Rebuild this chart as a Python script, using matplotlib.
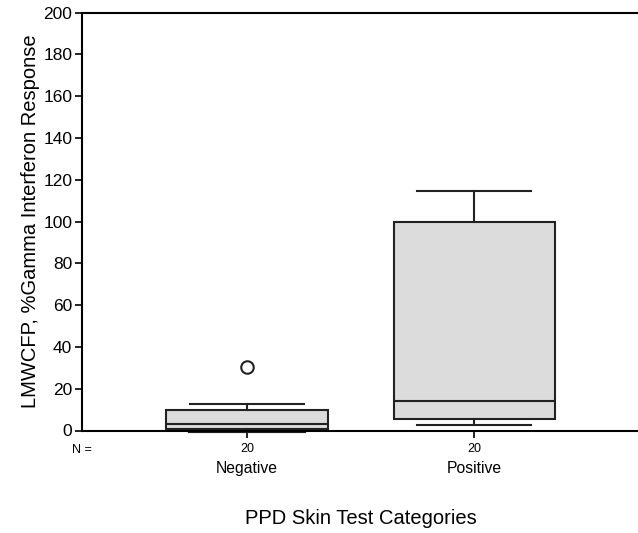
import numpy as np
import matplotlib
matplotlib.use("Agg")
import matplotlib.pyplot as plt

# Box summary values (SPSS style boxplot)
categories = ["Negative", "Positive"]
counts = [20, 20]
whisk_lo = [-0.3, 2.5]
q1 = [0.5, 5.4]
median = [3.2, 14.0]
q3 = [9.6, 100.0]
whisk_hi = [12.6, 114.5]
outliers = [[30.3], []]

yticks = [0, 20, 40, 60, 80, 100, 120, 140, 160, 180, 200]

plt.rcParams['font.family'] = ['Liberation Sans', 'DejaVu Sans']

fig = plt.figure(figsize=(6.38, 5.33), dpi=100)
ax = fig.add_axes([82/638, 1-430.5/533, 1-82/638, 417.8/533])

stats = []
for i in range(len(categories)):
    stats.append({'label': categories[i], 'whislo': whisk_lo[i], 'q1': q1[i],
                  'med': median[i], 'q3': q3[i], 'whishi': whisk_hi[i],
                  'fliers': outliers[i]})

pos = [1, 2]
bp = ax.bxp(stats, positions=pos, widths=0.71, patch_artist=True,
            showfliers=True, manage_ticks=False,
            boxprops=dict(facecolor='#dcdcdc', edgecolor='#222222', linewidth=1.5),
            medianprops=dict(color='#222222', linewidth=1.5),
            whiskerprops=dict(color='#222222', linewidth=1.5),
            capprops=dict(color='#222222', linewidth=1.5),
            flierprops=dict(marker='o', markerfacecolor='white',
                            markeredgecolor='#222222', markersize=9, markeredgewidth=1.5))
# cap width relative to box
for cap in bp['caps']:
    x = cap.get_xdata()
    c = x.mean()
    cap.set_xdata([c - 0.25, c + 0.25])
    cap.set_clip_on(False)
for w in bp['whiskers']:
    w.set_clip_on(False)
# the bottom cap of the negative box drawn heavier
bp['caps'][0].set_linewidth(3)

ax.set_xlim(0.275, 2.72)
ax.set_ylim(0, 200)
ax.set_yticks(yticks)
ax.tick_params(axis='y', direction='out', length=5, width=1.2, labelsize=12.5, pad=2)
ax.tick_params(axis='x', direction='out', length=5, width=1.2, labelsize=9, pad=4)
ax.set_xticks(pos)
ax.set_xticklabels([str(n) for n in counts])
ax.spines['right'].set_visible(False)
for s in ['left', 'bottom', 'top']:
    ax.spines[s].set_linewidth(1.5)

ax.text(0.0, -9.5, "N =", transform=ax.get_yaxis_transform(), ha='center',
        va='center', fontsize=9)
for p, c in zip(pos, categories):
    ax.text(p, -18, c, ha='center', va='center', fontsize=11.3, clip_on=False)

ax.set_ylabel("LMWCFP, %Gamma Interferon Response", fontsize=14.5, labelpad=2)
fig.text(0.565, 1-518/533, "PPD Skin Test Categories", ha='center', va='center',
         fontsize=14.5)

fig.savefig("out.png", dpi=100)
